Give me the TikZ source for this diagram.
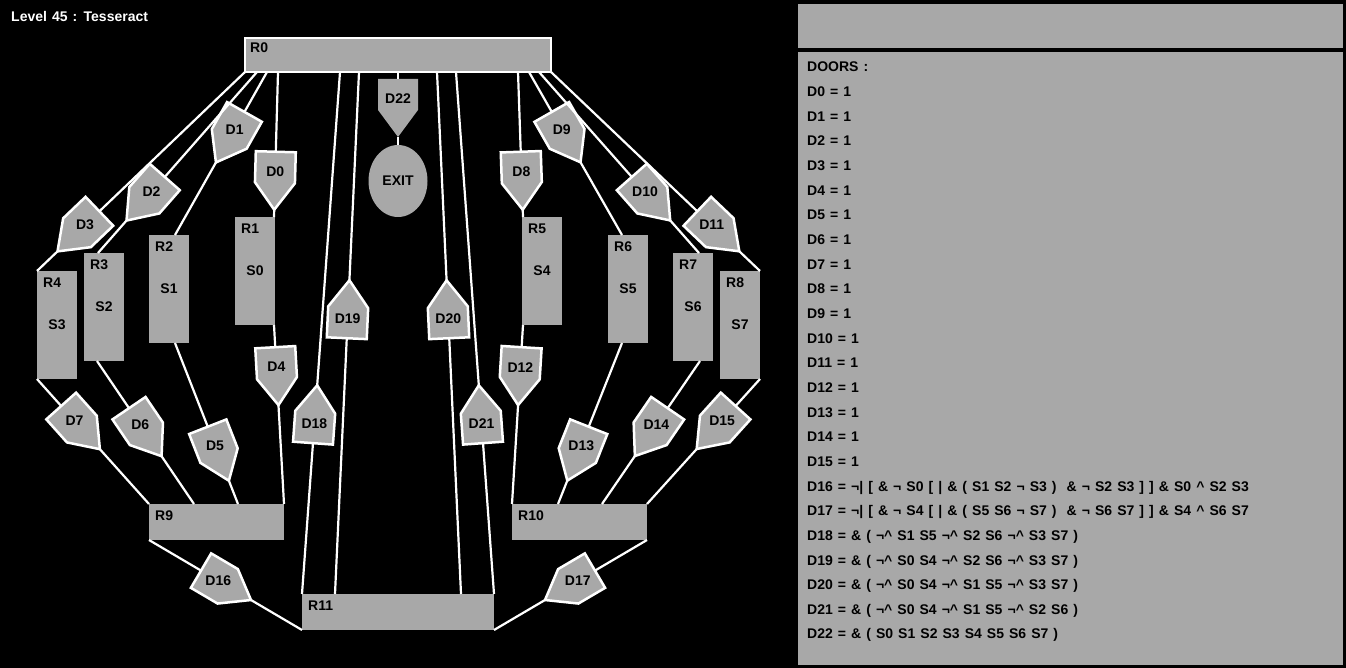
\documentclass[tikz,border=0pt]{standalone}
\usepackage{fontspec}
\setmainfont{Liberation Sans}[WordSpace=1.3]
\usetikzlibrary{shapes.geometric}
\usetikzlibrary{positioning}
\definecolor{roomgray}{RGB}{168,168,168}
\tikzset{
  room/.style={rectangle,fill=roomgray,anchor=north west,outer sep=0pt,minimum width=40pt,minimum height=108pt},
  doorline/.style={draw=white,line width=2.5pt},
  wire/.style={white,line width=2.2pt},
  door/.pic={
    \path[fill=roomgray,doorline] (0,-20) -- (31,-20) -- (58,0) -- (31,20) -- (0,20) -- cycle;
    \coordinate (-in) at (0,0);
    \coordinate (-out) at (58,0);
    \node (-txt) at (20,0) {#1};
  }
}

\begin{document}
\begin{tikzpicture}[x=1pt,y=-1pt,every node/.style={font=\bfseries\fontsize{14pt}{16pt}\selectfont,inner sep=0pt}]
  \useasboundingbox (0,0) rectangle (1346,668);
  \fill[black] (0,0) rectangle (1346,668);
  \node[white,anchor=base west] (title) at (11,22) {Level 45 : Tesseract};

  % rooms
  \node[room,draw=white,line width=2.5pt,minimum width=306pt,minimum height=34pt] (R0) at (245,38) {};
  \node[below right=5pt and 5pt of R0.north west] (R0-lbl) {R0};
  \foreach \r/\x/\y/\s in {1/235/217/0,2/149/235/1,3/84/253/2,4/37/271/3,5/522/217/4,6/608/235/5,7/673/253/6,8/720/271/7}{
    \node[room] (R\r) at (\x,\y) {};
    \node[below right=7pt and 6pt of R\r.north west] (R\r-lbl) {R\r};
    \node (S\s) at (R\r.center) {S\s};
  }
  \node[room,minimum width=135pt,minimum height=36pt] (R9) at (149,504) {};
  \node[room,minimum width=135pt,minimum height=36pt] (R10) at (512,504) {};
  \node[room,minimum width=192pt,minimum height=36pt] (R11) at (302,594) {};
  \foreach \r in {9,10,11}
    \node[below right=7pt and 6pt of R\r.north west] (R\r-lbl) {R\r};
  \node[ellipse,fill=roomgray,minimum width=59pt,minimum height=72pt] (exit) at (398,181) {EXIT};

  % door ends
  \coordinate (a0) at ([xshift=-120pt]R0.south);  \coordinate (b0) at ([xshift=-1pt]R1.north east);
  \coordinate (a1) at ([xshift=-131pt]R0.south);  \coordinate (b1) at ([xshift=26pt]R2.north west);
  \coordinate (a2) at ([xshift=-141pt]R0.south);  \coordinate (b2) at ([xshift=14pt]R3.north west);
  \coordinate (a3) at ([xshift=-153pt]R0.south);  \coordinate (b3) at (R4.north west);
  \coordinate (a4) at ([xshift=-1pt]R1.south east); \coordinate (b4) at (R9.north east);
  \coordinate (a5) at ([xshift=26pt]R2.south west); \coordinate (b5) at ([xshift=89pt]R9.north west);
  \coordinate (a6) at ([xshift=13pt]R3.south west); \coordinate (b6) at ([xshift=45pt]R9.north west);
  \coordinate (a7) at (R4.south west);            \coordinate (b7) at (R9.north west);
  \coordinate (a8) at ([xshift=120pt]R0.south);   \coordinate (b8) at ([xshift=1pt]R5.north west);
  \coordinate (a9) at ([xshift=131pt]R0.south);   \coordinate (b9) at ([xshift=-26pt]R6.north east);
  \coordinate (a10) at ([xshift=141pt]R0.south);  \coordinate (b10) at ([xshift=-14pt]R7.north east);
  \coordinate (a11) at ([xshift=153pt]R0.south);  \coordinate (b11) at (R8.north east);
  \coordinate (a12) at ([xshift=1pt]R5.south west); \coordinate (b12) at (R10.north west);
  \coordinate (a13) at ([xshift=-26pt]R6.south east); \coordinate (b13) at ([xshift=-89pt]R10.north east);
  \coordinate (a14) at ([xshift=-13pt]R7.south east); \coordinate (b14) at ([xshift=-45pt]R10.north east);
  \coordinate (a15) at (R8.south east);           \coordinate (b15) at (R10.north east);
  \coordinate (a16) at (R9.south west);           \coordinate (b16) at (R11.south west);
  \coordinate (a17) at (R10.south east);          \coordinate (b17) at (R11.south east);
  \coordinate (a18) at (R11.north west);          \coordinate (b18) at ([xshift=-58pt]R0.south);
  \coordinate (a19) at ([xshift=33pt]R11.north west); \coordinate (b19) at ([xshift=-39pt]R0.south);
  \coordinate (a20) at ([xshift=-33pt]R11.north east); \coordinate (b20) at ([xshift=39pt]R0.south);
  \coordinate (a21) at (R11.north east);          \coordinate (b21) at ([xshift=58pt]R0.south);

  % doors
  \foreach \d/\t in {0/.55,1/.245,2/.58,3/.70,4/.124,5/.52,6/.33,7/.216,8/.55,9/.245,10/.58,11/.70,12/.124,13/.52,14/.33,15/.216,16/.34,17/.34,18/.289,19/.49,20/.49,21/.289}{
    \path (a\d) -- (b\d) pic[pos=\t,sloped,allow upside down] (D\d) {door=D\d};
    \draw[wire] (a\d) -- (D\d-in) (D\d-out) -- (b\d);
  }
  \path (R0.south) -- (exit.north) pic[pos=.096,sloped,allow upside down,doorline/.style={}] (D22) {door=D22};
  \draw[wire] (R0.south) -- (D22-in) (D22-out) -- (exit.north);

  % info panel
  \node[fill=roomgray,anchor=north west,minimum width=545pt,minimum height=44pt] (info) at (798,4) {};
  \node[fill=roomgray,anchor=north west,minimum width=545pt,minimum height=613pt] (panel) at (798,52) {};
  \node[anchor=base west] (doors) at (807,72) {DOORS :};
  \foreach \i in {0,...,15}
    \node[anchor=base west] (d\i) at (807,{72+24.65*(\i+1)}) {D\i{} = 1};
  \node[anchor=base west] (d16) at (807,{72+24.65*17}) {D16 = ¬| [ \& ¬ S0 [ | \& ( S1 S2 ¬ S3 ) \ \& ¬ S2 S3 ] ] \& S0 \textasciicircum{} S2 S3};
  \node[anchor=base west] (d17) at (807,{72+24.65*18}) {D17 = ¬| [ \& ¬ S4 [ | \& ( S5 S6 ¬ S7 ) \ \& ¬ S6 S7 ] ] \& S4 \textasciicircum{} S6 S7};
  \node[anchor=base west] (d18) at (807,{72+24.65*19}) {D18 = \& ( ¬\textasciicircum{} S1 S5 ¬\textasciicircum{} S2 S6 ¬\textasciicircum{} S3 S7 )};
  \node[anchor=base west] (d19) at (807,{72+24.65*20}) {D19 = \& ( ¬\textasciicircum{} S0 S4 ¬\textasciicircum{} S2 S6 ¬\textasciicircum{} S3 S7 )};
  \node[anchor=base west] (d20) at (807,{72+24.65*21}) {D20 = \& ( ¬\textasciicircum{} S0 S4 ¬\textasciicircum{} S1 S5 ¬\textasciicircum{} S3 S7 )};
  \node[anchor=base west] (d21) at (807,{72+24.65*22}) {D21 = \& ( ¬\textasciicircum{} S0 S4 ¬\textasciicircum{} S1 S5 ¬\textasciicircum{} S2 S6 )};
  \node[anchor=base west] (d22) at (807,{72+24.65*23}) {D22 = \& ( S0 S1 S2 S3 S4 S5 S6 S7 )};
\end{tikzpicture}
\end{document}
